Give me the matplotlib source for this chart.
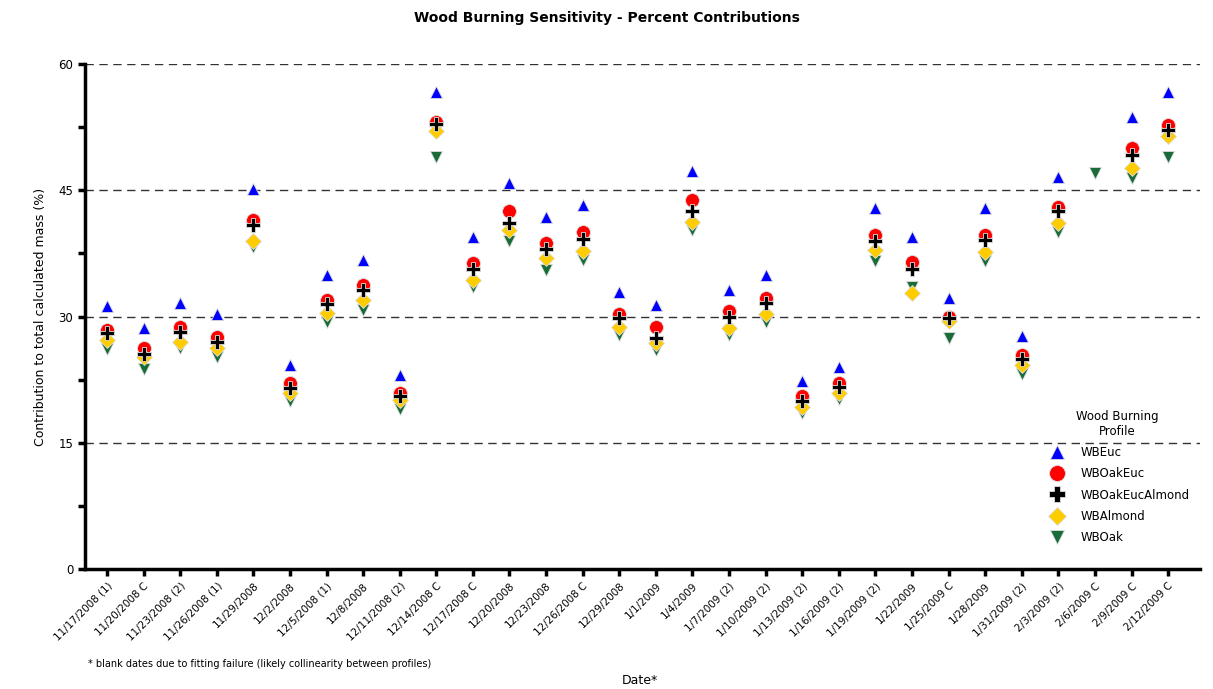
import numpy as np
import matplotlib
matplotlib.use("Agg")
import matplotlib.pyplot as plt
from matplotlib.ticker import MultipleLocator

dates = ["11/17/2008 (1)", "11/20/2008 C", "11/23/2008 (2)", "11/26/2008 (1)", "11/29/2008",
         "12/2/2008", "12/5/2008 (1)", "12/8/2008", "12/11/2008 (2)", "12/14/2008 C",
         "12/17/2008 C", "12/20/2008", "12/23/2008", "12/26/2008 C", "12/29/2008",
         "1/1/2009", "1/4/2009", "1/7/2009 (2)", "1/10/2009 (2)", "1/13/2009 (2)",
         "1/16/2009 (2)", "1/19/2009 (2)", "1/22/2009", "1/25/2009 C", "1/28/2009",
         "1/31/2009 (2)", "2/3/2009 (2)", "2/6/2009 C", "2/9/2009 C", "2/12/2009 C"]

nan = np.nan
wb_euc = [31.2, 28.6, 31.6, 30.3, 45.1, 24.2, 34.9, 36.7, 23.0, 56.7,
          39.4, 45.9, 41.8, 43.2, 32.9, 31.4, 47.3, 33.1, 34.9, 22.3,
          24.0, 42.9, 39.4, 32.2, 42.9, 27.7, 46.6, nan, 53.7, 56.7]
wb_oak_euc = [28.4, 26.2, 28.8, 27.6, 41.5, 22.1, 32.0, 33.7, 20.9, 53.1,
              36.4, 42.5, 38.7, 40.0, 30.3, 28.8, 43.9, 30.6, 32.2, 20.5,
              22.1, 39.7, 36.5, 29.9, 39.7, 25.4, 43.0, nan, 50.0, 52.8]
wb_oak_euc_almond = [28.0, 25.6, 28.2, 27.0, 40.9, 21.5, 31.5, 33.1, 20.5, 52.9,
                     35.7, 41.1, 38.0, 39.2, 29.8, 27.4, 42.5, 30.0, 31.6, 20.0,
                     21.6, 39.0, 35.6, 29.8, 39.1, 24.9, 42.5, nan, 49.2, 52.2]
wb_almond = [27.2, 25.2, 27.0, 26.2, 39.0, 20.9, 30.4, 32.0, 20.1, 52.0,
             34.3, 40.3, 37.0, 37.8, 28.8, 26.9, 41.2, 28.6, 30.3, 19.3,
             20.9, 37.9, 32.8, 29.5, 37.7, 24.2, 41.1, nan, 47.7, 51.5]
wb_oak = [26.1, 23.8, 26.2, 25.2, 38.2, 20.0, 29.3, 30.8, 19.0, 49.0,
          33.5, 39.0, 35.5, 36.7, 27.8, 26.0, 40.3, 27.8, 29.4, 18.5,
          20.2, 36.6, 33.5, 27.4, 36.6, 23.2, 40.0, 47.0, 46.4, 48.9]

W, H = 1213, 689
fig = plt.figure(figsize=(W / 100, H / 100), dpi=100)
ax = fig.add_axes([85 / W, 1 - 569 / H, (1200 - 85) / W, (569 - 64) / H])

x = np.arange(len(dates))
series = [
    ("WBEuc", wb_euc, "^", "#0000ff", 9, 2),
    ("WBOakEuc", wb_oak_euc, "o", "#ff0000", 10, 3),
    ("WBOakEucAlmond", wb_oak_euc_almond, "P", "#000000", 10, 6),
    ("WBAlmond", wb_almond, "D", "#ffcc00", 8, 5),
    ("WBOak", wb_oak, "v", "#1a6b3a", 9, 4),
]
for name, vals, m, c, ms, z in series:
    ax.plot(x, vals, linestyle="none", marker=m, color=c, markersize=ms,
            markeredgecolor="#dddddd", markeredgewidth=0.6, label=name, zorder=z)

ax.set_xlim(-0.6, len(dates) - 1 + 0.87)
ax.set_ylim(0, 60)
ax.yaxis.set_minor_locator(MultipleLocator(7.5))
ax.set_yticks([0, 15, 30, 45, 60])
ax.set_yticklabels(["0", "15", "30", "45", "60"], fontsize=8.5)
for yv in [15, 30, 45, 60]:
    ax.axhline(yv, color="#333333", linestyle=(0, (6, 4)), linewidth=1.0, zorder=1)

ax.set_xticks(x)
ax.set_xticklabels(dates, rotation=45, ha="right", rotation_mode="anchor", fontsize=7.5)

for s in ["top", "right"]:
    ax.spines[s].set_visible(False)
for s in ["left", "bottom"]:
    ax.spines[s].set_linewidth(2.5)
ax.tick_params(axis="both", which="major", direction="out", length=5, width=2.5)
ax.tick_params(axis="y", which="minor", direction="out", length=5, width=2.5)

ax.set_ylabel("Contribution to total calculated mass (%)", fontsize=9, labelpad=8)
fig.text(640 / W, 1 - 680 / H, "Date*", ha="center", va="center", fontsize=9)
fig.text(88 / W, 1 - 664 / H,
         "* blank dates due to fitting failure (likely collinearity between profiles)",
         ha="left", va="center", fontsize=7)
fig.suptitle("Wood Burning Sensitivity - Percent Contributions", x=0.5, y=1 - 18 / H,
             fontsize=10, fontweight="bold", va="center")

leg = ax.legend(title="Wood Burning\nProfile", loc="upper left",
                bbox_to_anchor=((1040 - 85) / (1200 - 85), (569 - 405) / (569 - 64)),
                frameon=False, fontsize=8.5, title_fontsize=8.5, handletextpad=1.0,
                labelspacing=0.7, borderaxespad=0, markerscale=1.15, alignment="center")
leg.get_title().set_multialignment("center")

fig.savefig("out.png", dpi=100)
